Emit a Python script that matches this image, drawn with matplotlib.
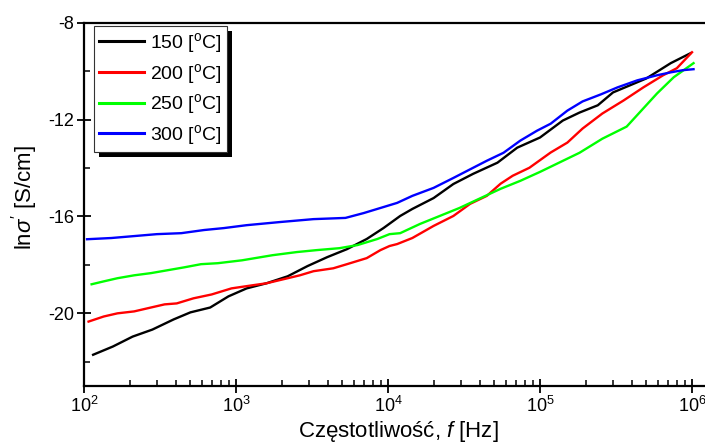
import numpy as np
import matplotlib
matplotlib.use('Agg')
import matplotlib.pyplot as plt
from matplotlib.patches import Rectangle
from matplotlib.ticker import LogLocator, LogFormatterMathtext, MultipleLocator

plt.rcParams['font.family'] = ['Liberation Sans', 'DejaVu Sans']
plt.rcParams['mathtext.fontset'] = 'custom'
plt.rcParams['mathtext.rm'] = 'Liberation Sans'
plt.rcParams['mathtext.it'] = 'Liberation Sans:italic'
plt.rcParams['axes.unicode_minus'] = False

# log10 of frequency [Hz] and ln(sigma')
lg_150 = [2.06, 2.19, 2.32, 2.45, 2.59, 2.70, 2.83, 2.95, 3.07, 3.20, 3.34, 3.47, 3.60,
          3.73, 3.86, 3.97, 4.08, 4.16, 4.30, 4.43, 4.56, 4.72, 4.85, 5.00, 5.15, 5.26,
          5.38, 5.48, 5.59, 5.70, 5.86, 5.99]
s_150 = [-21.71, -21.37, -20.96, -20.67, -20.25, -19.96, -19.76, -19.30, -18.97, -18.76,
         -18.47, -18.05, -17.68, -17.35, -16.93, -16.48, -15.98, -15.69, -15.24, -14.66,
         -14.24, -13.78, -13.16, -12.74, -12.04, -11.71, -11.41, -10.88, -10.59, -10.30,
         -9.67, -9.26]

lg_200 = [2.03, 2.13, 2.22, 2.33, 2.44, 2.53, 2.61, 2.72, 2.84, 2.97, 3.11, 3.20, 3.34,
          3.42, 3.51, 3.64, 3.73, 3.86, 3.95, 4.01, 4.06, 4.16, 4.30, 4.43, 4.54, 4.65,
          4.74, 4.82, 4.93, 5.07, 5.18, 5.28, 5.41, 5.55, 5.68, 5.81, 5.90, 6.00]
s_200 = [-20.34, -20.13, -20.00, -19.92, -19.76, -19.63, -19.59, -19.38, -19.22, -18.97,
         -18.84, -18.76, -18.55, -18.43, -18.26, -18.14, -17.97, -17.72, -17.39, -17.22,
         -17.14, -16.89, -16.39, -15.98, -15.48, -15.15, -14.65, -14.32, -13.99, -13.36,
         -12.95, -12.37, -11.75, -11.21, -10.67, -10.17, -9.88, -9.22]

lg_250 = [2.05, 2.13, 2.22, 2.33, 2.44, 2.55, 2.66, 2.77, 2.88, 3.04, 3.24, 3.40, 3.53,
          3.68, 3.80, 3.93, 4.01, 4.08, 4.21, 4.34, 4.47, 4.61, 4.74, 4.87, 5.00, 5.26,
          5.41, 5.57, 5.77, 5.88, 6.01]
s_250 = [-18.80, -18.68, -18.55, -18.43, -18.34, -18.22, -18.10, -17.97, -17.93, -17.81,
         -17.60, -17.47, -17.39, -17.31, -17.18, -16.93, -16.73, -16.69, -16.31, -15.98,
         -15.65, -15.24, -14.86, -14.53, -14.16, -13.37, -12.79, -12.29, -10.92, -10.25,
         -9.67]

lg_300 = [2.02, 2.18, 2.33, 2.48, 2.64, 2.79, 2.92, 3.07, 3.29, 3.51, 3.72, 3.84, 3.95,
          4.06, 4.16, 4.30, 4.43, 4.56, 4.65, 4.76, 4.87, 4.98, 5.07, 5.18, 5.28, 5.40,
          5.51, 5.64, 5.77, 5.86, 5.94, 6.01]
s_300 = [-16.94, -16.89, -16.81, -16.73, -16.69, -16.56, -16.48, -16.36, -16.23, -16.11,
         -16.06, -15.86, -15.65, -15.44, -15.15, -14.82, -14.41, -13.99, -13.70, -13.37,
         -12.87, -12.46, -12.17, -11.63, -11.25, -10.96, -10.67, -10.38, -10.17, -10.05,
         -9.96, -9.92]

labels = ['150 [$^\\mathregular{o}$C]', '200 [$^\\mathregular{o}$C]',
          '250 [$^\\mathregular{o}$C]', '300 [$^\\mathregular{o}$C]']
colors = ['#000000', '#ff0000', '#00ff00', '#0000ff']

fig = plt.figure(figsize=(7.05, 4.44), dpi=100)
ax = fig.add_axes([84 / 705, 58 / 444, 629 / 705, 363.3 / 444])

series = [(lg_150, s_150), (lg_200, s_200), (lg_250, s_250), (lg_300, s_300)]
for (lg, s), lab, c in zip(series, labels, colors):
    ax.plot(10 ** np.array(lg), s, color=c, lw=1.7, label=lab)

ax.set_xscale('log')
ax.set_xlim(1e2, 10 ** 6.138)
ax.set_ylim(-23, -8)
ax.xaxis.set_major_locator(LogLocator(base=10, numticks=10))
ax.xaxis.set_minor_locator(LogLocator(base=10, subs=np.arange(2, 10), numticks=20))
ax.xaxis.set_major_formatter(LogFormatterMathtext())
ax.yaxis.set_minor_locator(MultipleLocator(2))
ax.set_yticks([-8, -12, -16, -20])

for sp in ax.spines.values():
    sp.set_linewidth(1.6)
ax.spines['right'].set_visible(False)
ax.tick_params(which='major', direction='inout', length=10, width=1.3, labelsize=13, pad=2)
ax.tick_params(which='minor', direction='in', length=4, width=1.1)

ax.set_xlabel('Częstotliwość, $f$ [Hz]', fontsize=16, labelpad=2)
ax.set_ylabel("ln$\\sigma'$ [S/cm]", fontsize=16)
ax.yaxis.set_label_coords(-0.07, 0.52)

leg = ax.legend(loc='upper left', bbox_to_anchor=(10 / 629, 1 - 3.3 / 363.3),
                borderaxespad=0, fontsize=14, handlelength=2.3, handletextpad=0.35,
                borderpad=0.25, labelspacing=0.35, frameon=True, fancybox=False,
                framealpha=1, edgecolor='#333333')
leg.get_frame().set_linewidth(0.8)
for line in leg.get_lines():
    line.set_linewidth(2.2)

# heavy drop shadow behind the legend box
fig.canvas.draw()
bb = leg.get_frame().get_window_extent().transformed(fig.transFigure.inverted())
ax.add_patch(Rectangle((bb.x0 + 5 / 705, bb.y0 - 5 / 444), bb.width, bb.height,
                       transform=fig.transFigure, facecolor='k', edgecolor='none',
                       clip_on=False, zorder=4.9))

fig.savefig('out.png', dpi=100)
